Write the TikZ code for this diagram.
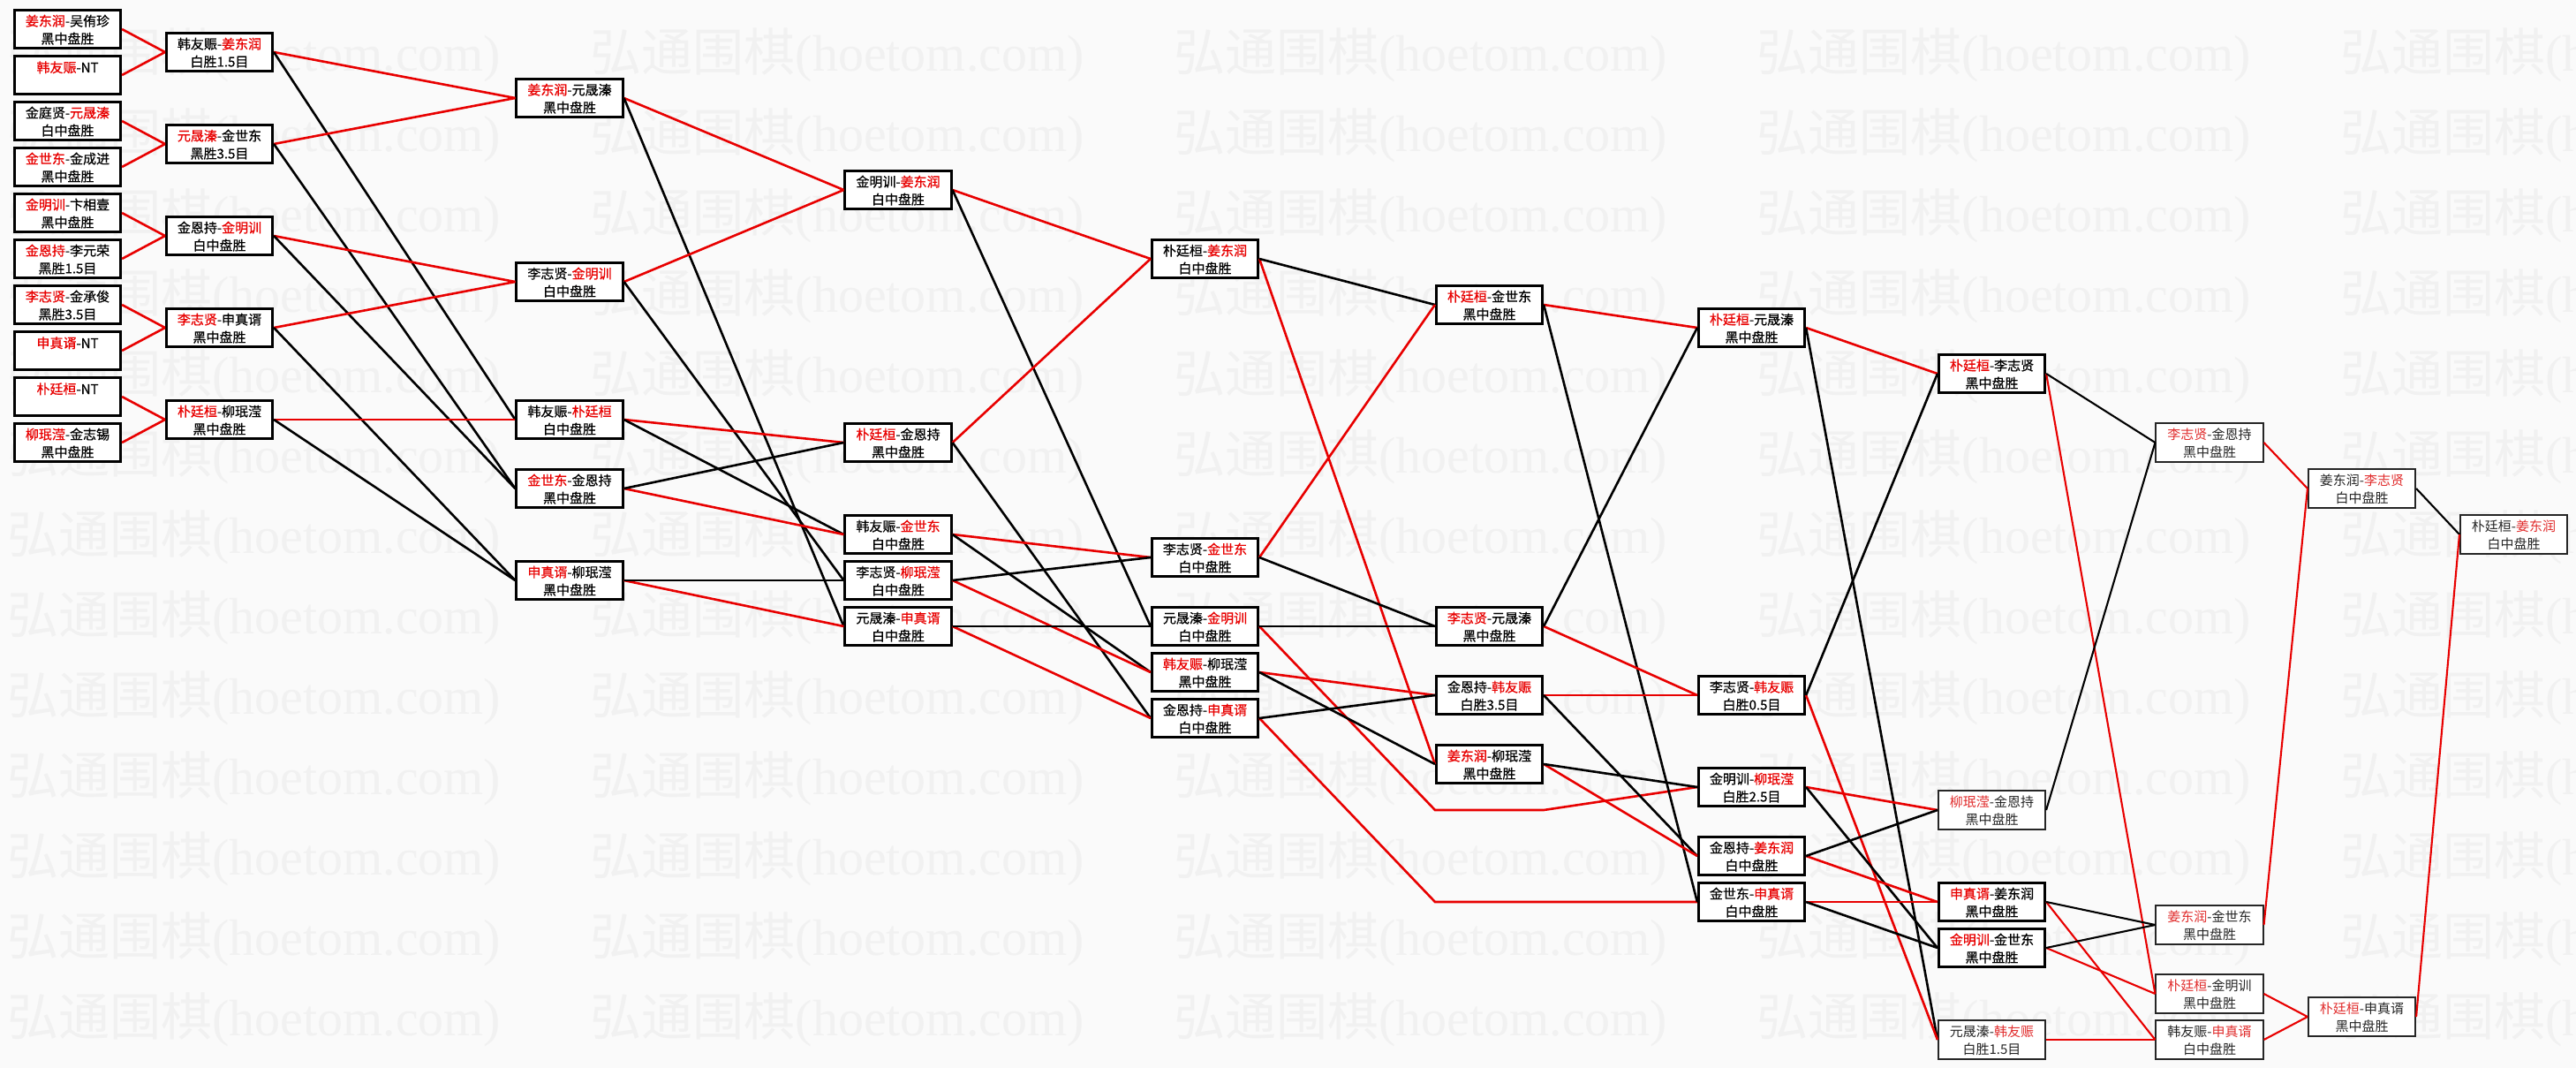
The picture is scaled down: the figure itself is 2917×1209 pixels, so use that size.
\documentclass[tikz,border=0pt]{standalone}
\usepackage{fontspec}
\setmainfont{Noto Sans CJK SC}
\newfontfamily\cjkb{Noto Sans CJK SC}[FakeBold=0.6]
\newfontfamily\cjkn{Noto Sans CJK SC}
\newfontfamily\wmlat{Liberation Serif}
\definecolor{wred}{RGB}{232,0,0}
\definecolor{tred}{RGB}{225,45,45}
\definecolor{bgc}{RGB}{250,250,250}
\definecolor{wmc}{RGB}{241,241,241}
\newcommand\R[1]{\textcolor{wred}{#1}}
\newcommand\Rt[1]{\textcolor{tred}{#1}}
\tikzset{
  mbox/.style={draw=black, line width=2.7pt, fill=white, minimum width=120.5pt, minimum height=42.5pt,
     inner sep=0pt, align=center, font=\cjkb\fontsize{15}{20}\selectfont, anchor=center},
  tbox/.style={mbox, line width=1.6pt, draw=black!85, minimum width=121.5pt, minimum height=43.5pt,
     font=\cjkn\fontsize{15}{20}\selectfont, text=black!85},
  rl/.style={draw=wred, line width=2.6pt},
  bl/.style={draw=black, line width=2.6pt},
  rlt/.style={draw=wred, line width=2.1pt},
  blt/.style={draw=black, line width=2.1pt},
  wm/.style={anchor=west, inner sep=0pt, text=wmc, font=\cjkn\fontsize{58}{60}\selectfont},
}
\begin{document}
\begin{tikzpicture}[x=1pt,y=-1pt]
\useasboundingbox[fill=bgc] (0,0) rectangle (2917,1209);
% watermark
\begin{scope}
\clip (0,0) rectangle (2917,1209);
\foreach \r in {0,...,12}{
  \foreach \m in {0,...,4}{
    \node[wm] (wm-\r-\m) at ({8+660.5*\m},{62+91*\r}) {弘通围棋{\wmlat(hoetom.com)}};
  }}
\end{scope}
% column A
\node[mbox] (A1) at (76.5,33) {\rule{0pt}{14pt}\R{姜东润}-吴侑珍\\黑中盘胜};
\node[mbox] (A2) at (76.5,85) {\rule{0pt}{14pt}\R{韩友赈}-NT\\\mbox{}};
\node[mbox] (A3) at (76.5,137) {\rule{0pt}{14pt}金庭贤-\R{元晟溱}\\白中盘胜};
\node[mbox] (A4) at (76.5,189) {\rule{0pt}{14pt}\R{金世东}-金成进\\黑中盘胜};
\node[mbox] (A5) at (76.5,241) {\rule{0pt}{14pt}\R{金明训}-卞相壹\\黑中盘胜};
\node[mbox] (A6) at (76.5,293) {\rule{0pt}{14pt}\R{金恩持}-李元荣\\黑胜1.5目};
\node[mbox] (A7) at (76.5,345) {\rule{0pt}{14pt}\R{李志贤}-金承俊\\黑胜3.5目};
\node[mbox] (A8) at (76.5,397) {\rule{0pt}{14pt}\R{申真谞}-NT\\\mbox{}};
\node[mbox] (A9) at (76.5,449) {\rule{0pt}{14pt}\R{朴廷桓}-NT\\\mbox{}};
\node[mbox] (A10) at (76.5,501) {\rule{0pt}{14pt}\R{柳珉滢}-金志锡\\黑中盘胜};
% column B
\node[mbox] (B1) at (248.5,59) {\rule{0pt}{14pt}韩友赈-\R{姜东润}\\白胜1.5目};
\node[mbox] (B2) at (248.5,163) {\rule{0pt}{14pt}\R{元晟溱}-金世东\\黑胜3.5目};
\node[mbox] (B3) at (248.5,267) {\rule{0pt}{14pt}金恩持-\R{金明训}\\白中盘胜};
\node[mbox] (B4) at (248.5,371) {\rule{0pt}{14pt}\R{李志贤}-申真谞\\黑中盘胜};
\node[mbox] (B5) at (248.5,475) {\rule{0pt}{14pt}\R{朴廷桓}-柳珉滢\\黑中盘胜};
% column C
\node[mbox] (C1) at (645,111) {\rule{0pt}{14pt}\R{姜东润}-元晟溱\\黑中盘胜};
\node[mbox] (C2) at (645,319) {\rule{0pt}{14pt}李志贤-\R{金明训}\\白中盘胜};
\node[mbox] (C3) at (645,475) {\rule{0pt}{14pt}韩友赈-\R{朴廷桓}\\白中盘胜};
\node[mbox] (C4) at (645,553) {\rule{0pt}{14pt}\R{金世东}-金恩持\\黑中盘胜};
\node[mbox] (C5) at (645,657) {\rule{0pt}{14pt}\R{申真谞}-柳珉滢\\黑中盘胜};
% column D
\node[mbox] (D1) at (1017,215) {\rule{0pt}{14pt}金明训-\R{姜东润}\\白中盘胜};
\node[mbox] (D2) at (1017,501) {\rule{0pt}{14pt}\R{朴廷桓}-金恩持\\黑中盘胜};
\node[mbox] (D3) at (1017,605) {\rule{0pt}{14pt}韩友赈-\R{金世东}\\白中盘胜};
\node[mbox] (D4) at (1017,657) {\rule{0pt}{14pt}李志贤-\R{柳珉滢}\\白中盘胜};
\node[mbox] (D5) at (1017,709) {\rule{0pt}{14pt}元晟溱-\R{申真谞}\\白中盘胜};
% column E
\node[mbox] (E1) at (1364.5,293) {\rule{0pt}{14pt}朴廷桓-\R{姜东润}\\白中盘胜};
\node[mbox] (E2) at (1364.5,631) {\rule{0pt}{14pt}李志贤-\R{金世东}\\白中盘胜};
\node[mbox] (E3) at (1364.5,709) {\rule{0pt}{14pt}元晟溱-\R{金明训}\\白中盘胜};
\node[mbox] (E4) at (1364.5,761) {\rule{0pt}{14pt}\R{韩友赈}-柳珉滢\\黑中盘胜};
\node[mbox] (E5) at (1364.5,813) {\rule{0pt}{14pt}金恩持-\R{申真谞}\\白中盘胜};
% column F
\node[mbox] (F1) at (1686.5,345) {\rule{0pt}{14pt}\R{朴廷桓}-金世东\\黑中盘胜};
\node[mbox] (F2) at (1686.5,709) {\rule{0pt}{14pt}\R{李志贤}-元晟溱\\黑中盘胜};
\node[mbox] (F3) at (1686.5,787) {\rule{0pt}{14pt}金恩持-\R{韩友赈}\\白胜3.5目};
\node[mbox] (F4) at (1686.5,865) {\rule{0pt}{14pt}\R{姜东润}-柳珉滢\\黑中盘胜};
\coordinate (P1a) at (1625,917);
\coordinate (P1b) at (1748,917);
\coordinate (P2a) at (1625,1021);
\coordinate (P2b) at (1748,1021);
% column G
\node[mbox] (G1) at (1983.5,371) {\rule{0pt}{14pt}\R{朴廷桓}-元晟溱\\黑中盘胜};
\node[mbox] (G2) at (1983.5,787) {\rule{0pt}{14pt}李志贤-\R{韩友赈}\\白胜0.5目};
\node[mbox] (G3) at (1983.5,891) {\rule{0pt}{14pt}金明训-\R{柳珉滢}\\白胜2.5目};
\node[mbox] (G4) at (1983.5,969) {\rule{0pt}{14pt}金恩持-\R{姜东润}\\白中盘胜};
\node[mbox] (G5) at (1983.5,1021) {\rule{0pt}{14pt}金世东-\R{申真谞}\\白中盘胜};
% column H
\node[mbox] (H1) at (2255.5,423) {\rule{0pt}{14pt}\R{朴廷桓}-李志贤\\黑中盘胜};
\node[tbox] (H2) at (2255.5,917) {\rule{0pt}{14pt}\Rt{柳珉滢}-金恩持\\黑中盘胜};
\node[mbox] (H3) at (2255.5,1021) {\rule{0pt}{14pt}\R{申真谞}-姜东润\\黑中盘胜};
\node[mbox] (H4) at (2255.5,1073) {\rule{0pt}{14pt}\R{金明训}-金世东\\黑中盘胜};
\node[tbox] (H5) at (2255.5,1177) {\rule{0pt}{14pt}元晟溱-\Rt{韩友赈}\\白胜1.5目};
% column I
\node[tbox] (I1) at (2502,501) {\rule{0pt}{14pt}\Rt{李志贤}-金恩持\\黑中盘胜};
\node[tbox] (I2) at (2502,1047) {\rule{0pt}{14pt}\Rt{姜东润}-金世东\\黑中盘胜};
\node[tbox] (I3) at (2502,1125) {\rule{0pt}{14pt}\Rt{朴廷桓}-金明训\\黑中盘胜};
\node[tbox] (I4) at (2502,1177) {\rule{0pt}{14pt}韩友赈-\Rt{申真谞}\\白中盘胜};
% column J
\node[tbox] (J1) at (2674.5,553) {\rule{0pt}{14pt}姜东润-\Rt{李志贤}\\白中盘胜};
\node[tbox] (J2) at (2674.5,1151) {\rule{0pt}{14pt}\Rt{朴廷桓}-申真谞\\黑中盘胜};
% column K
\node[tbox] (K1) at (2846.5,605) {\rule{0pt}{14pt}朴廷桓-\Rt{姜东润}\\白中盘胜};
% connectors A->B
\draw[rl] (A1.east) -- (B1.west);
\draw[rl] (A2.east) -- (B1.west);
\draw[rl] (A3.east) -- (B2.west);
\draw[rl] (A4.east) -- (B2.west);
\draw[rl] (A5.east) -- (B3.west);
\draw[rl] (A6.east) -- (B3.west);
\draw[rl] (A7.east) -- (B4.west);
\draw[rl] (A8.east) -- (B4.west);
\draw[rl] (A9.east) -- (B5.west);
\draw[rl] (A10.east) -- (B5.west);
% B->C
\draw[rl] (B1.east) -- (C1.west);
\draw[bl] (B1.east) -- (C3.west);
\draw[rl] (B2.east) -- (C1.west);
\draw[bl] (B2.east) -- (C4.west);
\draw[rl] (B3.east) -- (C2.west);
\draw[bl] (B3.east) -- (C4.west);
\draw[rl] (B4.east) -- (C2.west);
\draw[bl] (B4.east) -- (C5.west);
\draw[rl] (B5.east) -- (C3.west);
\draw[bl] (B5.east) -- (C5.west);
% C->D
\draw[rl] (C1.east) -- (D1.west);
\draw[bl] (C1.east) -- (D5.west);
\draw[rl] (C2.east) -- (D1.west);
\draw[bl] (C2.east) -- (D4.west);
\draw[rl] (C3.east) -- (D2.west);
\draw[bl] (C3.east) -- (D3.west);
\draw[rl] (C4.east) -- (D3.west);
\draw[bl] (C4.east) -- (D2.west);
\draw[rl] (C5.east) -- (D5.west);
\draw[bl] (C5.east) -- (D4.west);
% D->E
\draw[rl] (D1.east) -- (E1.west);
\draw[bl] (D1.east) -- (E3.west);
\draw[rl] (D2.east) -- (E1.west);
\draw[bl] (D2.east) -- (E5.west);
\draw[rl] (D3.east) -- (E2.west);
\draw[bl] (D3.east) -- (E4.west);
\draw[rl] (D4.east) -- (E4.west);
\draw[bl] (D4.east) -- (E2.west);
\draw[rl] (D5.east) -- (E5.west);
\draw[bl] (D5.east) -- (E3.west);
% E->F
\draw[rl] (E1.east) -- (F4.west);
\draw[bl] (E1.east) -- (F1.west);
\draw[rl] (E2.east) -- (F1.west);
\draw[bl] (E2.east) -- (F2.west);
\draw[rl] (E3.east) -- (P1a) -- (P1b) -- (G3.west);
\draw[bl] (E3.east) -- (F2.west);
\draw[rl] (E4.east) -- (F3.west);
\draw[bl] (E4.east) -- (F4.west);
\draw[rl] (E5.east) -- (P2a) -- (P2b) -- (G5.west);
\draw[bl] (E5.east) -- (F3.west);
% F->G
\draw[rl] (F1.east) -- (G1.west);
\draw[bl] (F1.east) -- (G5.west);
\draw[rl] (F2.east) -- (G2.west);
\draw[bl] (F2.east) -- (G1.west);
\draw[rl] (F3.east) -- (G2.west);
\draw[bl] (F3.east) -- (G4.west);
\draw[rl] (F4.east) -- (G4.west);
\draw[bl] (F4.east) -- (G3.west);
% G->H
\draw[rl] (G1.east) -- (H1.west);
\draw[bl] (G1.east) -- (H5.west);
\draw[rl] (G2.east) -- (H5.west);
\draw[bl] (G2.east) -- (H1.west);
\draw[rl] (G3.east) -- (H2.west);
\draw[bl] (G3.east) -- (H4.west);
\draw[rl] (G4.east) -- (H3.west);
\draw[bl] (G4.east) -- (H2.west);
\draw[rl] (G5.east) -- (H3.west);
\draw[bl] (G5.east) -- (H4.west);
% H->I
\draw[rlt] (H1.east) -- (I3.west);
\draw[blt] (H1.east) -- (I1.west);
\draw[blt] (H2.east) -- (I1.west);
\draw[rlt] (H3.east) -- (I4.west);
\draw[blt] (H3.east) -- (I2.west);
\draw[rlt] (H4.east) -- (I3.west);
\draw[blt] (H4.east) -- (I2.west);
\draw[rlt] (H5.east) -- (I4.west);
% I->J
\draw[rlt] (I1.east) -- (J1.west);
\draw[rlt] (I2.east) -- (J1.west);
\draw[rlt] (I3.east) -- (J2.west);
\draw[rlt] (I4.east) -- (J2.west);
% J->K
\draw[blt] (J1.east) -- (K1.west);
\draw[rlt] (J2.east) -- (K1.west);
\end{tikzpicture}
\end{document}
